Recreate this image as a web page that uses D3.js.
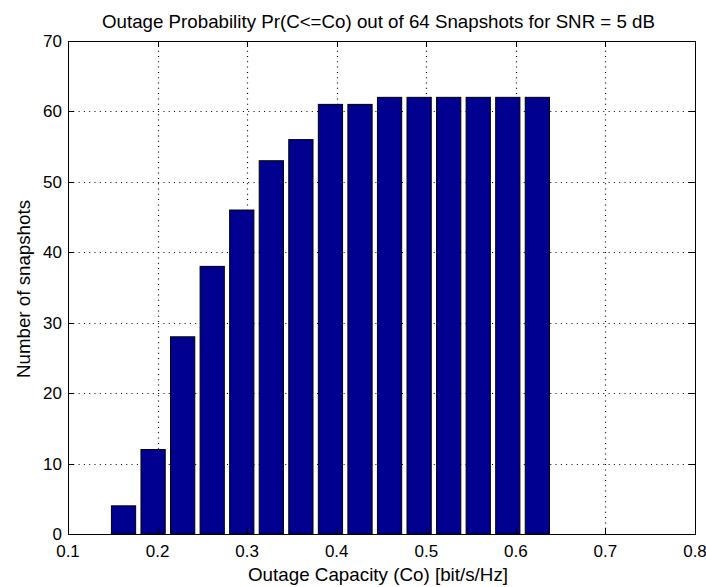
<!DOCTYPE html>
<html>
<head>
<meta charset="utf-8">
<script src="https://cdn.jsdelivr.net/npm/d3@7"></script>
<style>
  html, body { margin: 0; padding: 0; background: #fff; }
  svg text { font-family: "Liberation Sans", Arial, Helvetica, sans-serif; fill: #000; }
</style>
</head>
<body>
<svg id="chart" width="706" height="587"></svg>
<script>
// Outage capacity bins (bit/s/Hz) and count of snapshots with C <= Co
const capacity = [0.162, 0.195, 0.228, 0.261, 0.294, 0.327, 0.360, 0.393,
                  0.426, 0.459, 0.492, 0.525, 0.558, 0.591, 0.624];
const snapshots = [4, 12, 28, 38, 46, 53, 56, 61, 61, 62, 62, 62, 62, 62, 62];
const xTicks = [0.1, 0.2, 0.3, 0.4, 0.5, 0.6, 0.7, 0.8];
const yTicks = [0, 10, 20, 30, 40, 50, 60, 70];

const titleText = "Outage Probability Pr(C<=Co) out of 64 Snapshots for SNR = 5 dB";
const xLabel = "Outage Capacity (Co) [bit/s/Hz]";
const yLabel = "Number of snapshots";

const svg = d3.select("#chart");
const m = { left: 68, right: 695, top: 41, bottom: 534 };

const x = d3.scaleLinear().domain([0.1, 0.8]).range([m.left, m.right]);
const y = d3.scaleLinear().domain([0, 70]).range([m.bottom, m.top]);

const step = x(capacity[1]) - x(capacity[0]);
const barW = step * 0.82;
const tick = 6;

// dotted grid
const grid = svg.append("g")
  .attr("stroke", "#000").attr("stroke-width", 1.2)
  .attr("stroke-dasharray", "1,4.3");
grid.selectAll(".gx").data(xTicks.slice(1, -1)).join("line")
  .attr("x1", d => Math.round(x(d)) + 0.5).attr("x2", d => Math.round(x(d)) + 0.5)
  .attr("y1", m.bottom).attr("y2", m.top);
grid.selectAll(".gy").data(yTicks.slice(1, -1)).join("line")
  .attr("y1", d => Math.round(y(d)) + 0.5).attr("y2", d => Math.round(y(d)) + 0.5)
  .attr("x1", m.left).attr("x2", m.right);

// bars
svg.append("g").selectAll("rect").data(capacity).join("rect")
  .attr("x", (d) => x(d) - barW / 2)
  .attr("width", barW)
  .attr("y", (d, i) => y(snapshots[i]))
  .attr("height", (d, i) => y(0) - y(snapshots[i]))
  .attr("fill", "#000090")
  .attr("stroke", "#000").attr("stroke-width", 1);

// axes with inward ticks on all four sides
const tickG = svg.append("g").attr("stroke", "#000").attr("stroke-width", 1);
tickG.selectAll(".tb").data(xTicks).join("line")
  .attr("x1", d => Math.round(x(d)) + 0.5).attr("x2", d => Math.round(x(d)) + 0.5)
  .attr("y1", m.bottom).attr("y2", m.bottom - tick);
tickG.selectAll(".tt").data(xTicks).join("line")
  .attr("x1", d => Math.round(x(d)) + 0.5).attr("x2", d => Math.round(x(d)) + 0.5)
  .attr("y1", m.top).attr("y2", m.top + tick);
tickG.selectAll(".tl").data(yTicks).join("line")
  .attr("y1", d => Math.round(y(d)) + 0.5).attr("y2", d => Math.round(y(d)) + 0.5)
  .attr("x1", m.left).attr("x2", m.left + tick);
tickG.selectAll(".tr").data(yTicks).join("line")
  .attr("y1", d => Math.round(y(d)) + 0.5).attr("y2", d => Math.round(y(d)) + 0.5)
  .attr("x1", m.right).attr("x2", m.right - tick);

svg.append("rect")
  .attr("x", m.left + 0.5).attr("y", m.top + 0.5)
  .attr("width", m.right - m.left).attr("height", m.bottom - m.top)
  .attr("fill", "none").attr("stroke", "#000").attr("stroke-width", 1);

// tick labels
svg.append("g").selectAll("text").data(xTicks).join("text")
  .attr("x", d => x(d)).attr("y", 557)
  .attr("text-anchor", "middle").attr("font-size", 17)
  .text(d => d3.format(".1f")(d));
svg.append("g").selectAll("text").data(yTicks).join("text")
  .attr("x", 62).attr("y", d => y(d) + 6)
  .attr("text-anchor", "end").attr("font-size", 17)
  .text(d => d);

// title and axis labels
svg.append("text").attr("x", 378.5).attr("y", 28)
  .attr("text-anchor", "middle").attr("font-size", 19)
  .attr("textLength", 553).attr("lengthAdjust", "spacingAndGlyphs")
  .text(titleText);
svg.append("text").attr("x", 378).attr("y", 581)
  .attr("text-anchor", "middle").attr("font-size", 19)
  .attr("textLength", 260).attr("lengthAdjust", "spacingAndGlyphs")
  .text(xLabel);
svg.append("text")
  .attr("transform", "translate(30, 289) rotate(-90)")
  .attr("text-anchor", "middle").attr("font-size", 19)
  .attr("textLength", 178).attr("lengthAdjust", "spacingAndGlyphs")
  .text(yLabel);
</script>
</body>
</html>
